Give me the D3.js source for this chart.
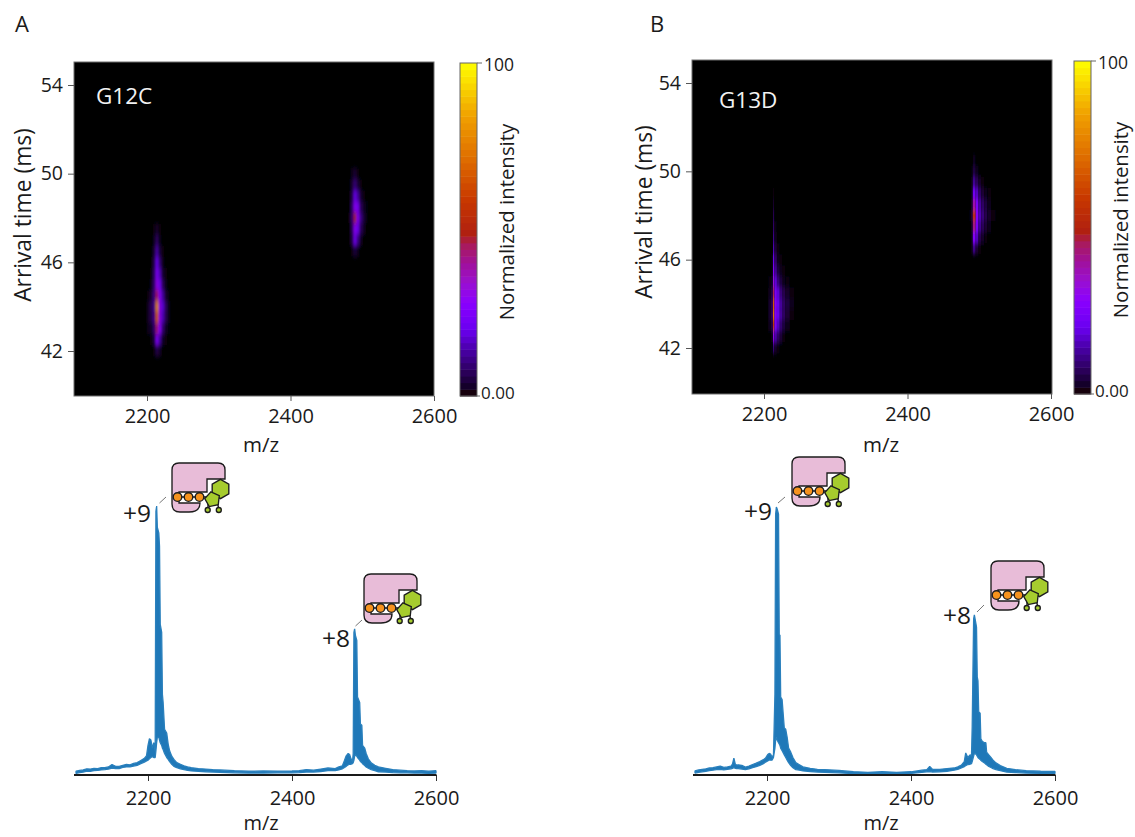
<!DOCTYPE html>
<html><head><meta charset="utf-8">
<script src="https://cdn.jsdelivr.net/npm/d3@7"></script>
<style>
html,body{margin:0;padding:0;background:#fff}
svg{display:block}
text{font-family:"Open Sans","Noto Sans",sans-serif;fill:#1a1a1a}
</style></head><body>
<svg id="c" width="1135" height="837"></svg>
<script>
// Tick labels
const mzTicks = [2200, 2400, 2600];
const timeTicks = [42, 46, 50, 54];
// Colour map (fraction of scale, colour)
const cmapStops = [0, .03, .07, .14, .2, .28, .34, .4, .45, .49, .59, .72, .84, .92, 1];
const cmapColors = ["#000000","#14002a","#2a0058","#4a00a8","#6a00f0","#8a00ff","#9a10d0","#a0109a","#a81a60","#b02010","#c83800","#e07000","#f0a000","#f8d000","#ffff00"];

// Heat map A, +9 ion
const a9Edges = [2200,2204,2208,2212,2216,2220,2224,2228,2232];
const a9Times = [47.5,47,46.5,46,45.5,45,44.5,44,43.5,43,42.5,42];
const a9Cells = [
 [0,0,1,3,1,0,0,0],[0,0,2,8,2,0,0,0],[0,0,4,14,5,1,0,0],
 [0,0,6,20,10,2,0,0],[0,1,8,25,16,4,1,0],[0,2,9,30,22,8,2,0],[1,4,11,44,27,14,4,1],
 [3,7,12,78,30,18,8,2],[3,6,12,66,30,16,7,2],[2,3,9,42,28,10,3,1],[0,1,5,26,14,3,1,0],[0,0,1,6,3,0,0,0]];
// Heat map A, +8 ion
const a8Edges = [2480,2484,2488,2492,2496,2500,2504,2508,2512];
const a8Times = [50,49.5,49,48.5,48,47.5,47,46.5];
const a8Cells = [
 [0,2,4,1,0,0,0,0],[0,4,10,5,1,0,0,0],[0,6,20,14,4,1,0,0],[0,9,28,24,8,3,1,0],
 [1,10,46,27,12,5,1,0],[0,8,28,22,8,3,0,0],[0,6,22,12,3,0,0,0],[0,1,5,2,0,0,0,0]];
// Heat map B, +9 ion
const b9Edges = [2206,2210,2212.5,2214.5,2218,2222,2226,2230,2236,2242];
const b9Times = [49,48.5,48,47.5,47,46.5,46,45.5,45,44.5,44,43.5,43,42.5,42];
const b9Cells = [
 [0,0,1,0,0,0,0,0,0],[0,0,3,0,0,0,0,0,0],[0,0,6,0,0,0,0,0,0],[0,0,8,1,0,0,0,0,0],
 [0,0,11,2,0,0,0,0,0],[0,0,15,4,1,0,0,0,0],[0,1,20,8,2,1,0,0,0],[0,1,26,12,5,2,1,0,0],
 [1,3,32,18,10,5,2,1,0],[2,6,46,24,18,10,6,3,1],[3,8,66,27,20,13,8,5,2],[3,8,72,26,20,13,8,4,1],
 [2,6,56,24,16,9,5,2,0],[0,2,30,14,8,4,1,0,0],[0,1,10,3,1,0,0,0,0]];
// Heat map B, +8 ion
const b8Edges = [2486,2488.8,2491,2495,2499,2503,2507,2511,2517,2523];
const b8Times = [50.5,50,49.5,49,48.5,48,47.5,47,46.5];
const b8Cells = [
 [0,0,2,0,0,0,0,0,0],[0,1,5,2,0,0,0,0,0],[0,2,12,7,3,1,0,0,0],[0,3,22,16,8,4,2,1,0],
 [0,4,38,24,13,8,5,2,0],[1,6,54,26,15,10,6,3,1],[0,4,42,24,12,7,4,2,0],[0,3,26,16,6,3,1,0,0],[0,2,11,4,1,0,0,0,0]];

// Spectrum A: m/z, upper and lower edge of the trace (%)
const mzA = [2100,2105,2110,2115,2120,2125,2130,2135,2140,2145,
 2150,2155,2160,2165,2170,2175,2180,2185,2190,2195,
 2198,2200,2202,2204,2206,2208,2210,2211,2212,2213,
 2215,2216,2217,2219,2220,2221,2223,2226,2228,2230,
 2233,2236,2240,2245,2250,2255,2260,2270,2280,2290,
 2300,2320,2340,2360,2380,2400,2410,2420,2430,2440,
 2450,2460,2465,2470,2473,2475,2478,2480,2482,2484,
 2485,2486,2487,2488,2490,2491,2494,2495,2497,2498,
 2501,2503,2506,2510,2515,2520,2530,2540,2550,2560,
 2570,2580,2590,2600];
const hiA = [1.4,1.7,1.9,2.3,2.2,2.5,2.4,2.7,2.7,3.0,
 3.9,3.2,3.2,3.6,3.9,3.8,4.3,4.6,5.4,6.2,
 7.2,11,13.5,13,10,12,9,98,100,92,
 90,85,56,53,30,27,17,15.6,11.5,9,
 7,5.8,4.6,4,3.4,3.0,2.7,2.4,2.2,2.0,
 1.9,1.6,1.4,1.5,1.4,1.5,1.6,2.0,1.8,2.2,
 2.6,2.4,3.0,3.4,5.5,7,8,7.6,6,5,
 8,53,54.3,52,50,29,27,19,18.5,11,
 10,8,6,4.5,3.6,3.0,2.5,2.0,1.8,1.6,
 1.5,1.6,1.4,1.6];
const loA = [.6,.9,1.1,1.4,1.4,1.6,1.7,1.9,2,2.2,
 2.6,2.4,2.4,2.8,3,3,3.3,3.6,4.2,4.8,
 5.2,5.5,6,6.5,6.8,6.5,6.5,9,12,14,
 14,13,12,11,10,9.5,8,6.5,5.8,5,
 4,3.2,2.7,2.3,2,1.7,1.5,1.4,1.2,1.1,
 1,.8,.7,.7,.8,.8,.9,1.1,1.1,1.3,
 1.6,1.6,1.9,2.3,2.8,3.2,3.8,4,4,4.2,
 4.6,5.5,7,7.5,7,6.5,5.5,5,4.6,4.2,
 3.5,3,2.5,2,1.6,1.2,1.1,.9,.8,.8,
 .7,.7,.6,.7];

// Spectrum B
const mzB = [2100,2105,2110,2115,2120,2125,2130,2135,2140,2145,
 2150,2152,2154,2156,2158,2160,2165,2170,2175,2180,
 2185,2190,2195,2198,2201,2203,2205,2207,2209,2211,
 2212,2213,2214,2216,2217,2218,2219,2221,2224,2226,
 2228,2230,2233,2236,2240,2245,2250,2260,2270,2280,
 2300,2320,2340,2360,2380,2400,2415,2422,2426,2430,
 2440,2450,2460,2465,2470,2474,2476,2479,2482,2484,
 2485,2487,2488,2489,2491,2492,2493,2494,2496,2497,
 2499,2502,2504,2505,2508,2511,2514,2518,2524,2533,
 2545,2560,2580,2600];
const hiB = [1.5,1.9,2.1,2.3,2.6,2.7,3,3.3,2.8,3,
 3.3,4,6.3,4,3.7,3.8,3.6,2.9,3.3,3.9,
 4.4,5,5.7,6.3,7.6,8,7.8,6.6,7.5,30,
 97,99.6,99,97,52,52,29,28,17.5,17,
 14,10,8.5,6.5,4.6,3.8,3,2.5,2.1,2,
 1.7,1.2,1.0,1.2,1.0,1.2,1.8,2,3.2,2.1,
 2.1,2.4,2.6,3,3.7,5,8.2,6.5,7.5,7,
 18,58,59.5,58,55,36.5,35,23.5,23,13.5,
 12.5,12,12,8.5,7.5,6.5,5.5,4.5,3.5,2.5,
 2,1.6,1.4,1.3];
const loB = [.7,1,1.2,1.4,1.6,1.8,2,2.1,1.9,2.1,
 2.3,2.5,2.7,2.5,2.4,2.4,2.2,2,2.3,2.7,
 3.1,3.6,4.2,4.8,5.2,5.6,5.5,5.5,6.5,10,
 13,14,13,12,11.5,11,10,9,7.5,6.5,
 5.5,4.6,3.5,2.7,2,1.8,1.5,1.3,1.1,1,
 .8,.5,.5,.6,.5,.6,1,1.2,1.3,1.1,
 1.2,1.4,1.8,2.1,2.6,3.1,3.5,3.9,4,4.2,
 5,7,8,8,7.5,7,6.5,6.2,5.8,5.5,
 5,4.5,4,3.8,3.2,2.8,2.4,2,1.6,1.1,
 .9,.7,.6,.6];

const svg = d3.select("#c");
const defs = svg.append("defs");
const tickGrey = "#555";
const color = d3.scaleLinear().domain(cmapStops.map(d => d * 100)).range(cmapColors).clamp(true);
const xTickSize = 20, yTickSize = 19.5;

function label(x, y, s, size, opt = {}) {
  const t = svg.append("text").attr("x", x).attr("y", y).attr("font-size", size).text(s)
    .attr("text-anchor", opt.anchor || "middle");
  if (opt.rot) t.attr("transform", `rotate(-90 ${x} ${y})`);
  if (opt.fill) t.style("fill", opt.fill);
  return t;
}

function heatPanel(p) {
  const x = d3.scaleLinear().domain([2200, 2600]).range([p.x2200, p.x2600]);
  const y = d3.scaleLinear().domain([42, 54]).range([p.y42, p.y54]);
  const L = p.left, R = p.right, T = p.top, B = p.bottom;
  svg.append("rect").attr("x", L).attr("y", T).attr("width", R - L).attr("height", B - T)
    .attr("fill", "#000").attr("stroke", "#6e6e6e").attr("stroke-width", 1);
  defs.append("filter").attr("id", p.id).attr("x", "-50%").attr("y", "-50%").attr("width", "200%").attr("height", "200%")
    .append("feGaussianBlur").attr("stdDeviation", p.blur);
  p.blobs.forEach(b => {
    const g = svg.append("g").attr("filter", `url(#${p.id})`);
    const halfRow = (b.times[0] - b.times[1]) / 2;
    b.times.forEach((t, r) => {
      b.cells[r].forEach((v, c) => {
        g.append("rect")
          .attr("x", x(b.edges[c])).attr("width", x(b.edges[c + 1]) - x(b.edges[c]))
          .attr("y", y(t + halfRow)).attr("height", y(t - halfRow) - y(t + halfRow))
          .attr("fill", color(v));
      });
    });
  });
  const ax = svg.append("g").attr("transform", `translate(0,${B})`)
    .call(d3.axisBottom(x).tickValues(mzTicks).tickFormat(d3.format("d")).tickSize(5).tickSizeOuter(0).tickPadding(8));
  const ay = svg.append("g").attr("transform", `translate(${L},0)`)
    .call(d3.axisLeft(y).tickValues(timeTicks).tickSize(6).tickSizeOuter(0).tickPadding(5));
  ax.select(".domain").remove();
  ay.select(".domain").remove();
  ax.selectAll("line").attr("stroke", tickGrey);
  ay.selectAll("line").attr("stroke", tickGrey);
  ax.selectAll("text").attr("font-size", xTickSize).style("font-family", null);
  ay.selectAll("text").attr("font-size", yTickSize).style("font-family", null);
  label(p.tagX, p.tagY, p.tag, 22.5, { anchor: "start", fill: "#f2f2f2" });
  label(p.ylabX, p.ylabY, "Arrival time (ms)", 22.8, { rot: true });
  label(p.mzX, p.mzY, "m/z", 20.5);
  // colour bar
  const cy = d3.scaleLinear().domain([0, 100]).range([B, T + 1]);
  const band = d3.range(0, 100, 2);
  svg.append("g").selectAll("rect").data(band).join("rect")
    .attr("x", p.cbX).attr("width", 17)
    .attr("y", d => cy(d + 2)).attr("height", d => cy(d) - cy(d + 2) + .5)
    .attr("fill", d => d === 0 ? "#16000c" : color(d + 1));
  svg.append("rect").attr("x", p.cbX).attr("y", T + 1).attr("width", 17).attr("height", B - T - 1)
    .attr("fill", "none").attr("stroke", "#666").attr("stroke-width", 1);
  svg.append("line").attr("x1", p.cbX + 17).attr("x2", p.cbX + 22).attr("y1", T + 1).attr("y2", T + 1).attr("stroke", "#666");
  svg.append("line").attr("x1", p.cbX + 17).attr("x2", p.cbX + 20).attr("y1", B).attr("y2", B).attr("stroke", "#666");
  label(p.cbX + 24, T + 9, "100", 17.5, { anchor: "start" });
  label(p.cbX + 21, B + 3, "0.00", 17, { anchor: "start" });
  label(p.cbX + 54, p.cbLabY, "Normalized intensity", 20.4, { rot: true });
}

function icon(px, py) {
  const g = svg.append("g").attr("transform", `translate(${px},${py})`);
  const st = { s: "#1c1c1c", w: 1.35 };
  g.append("path").attr("d", "M0,7 Q0,0 7,0 L46,0 Q53,0 53,7 L53,16 L35,16 L35,29 L7,29 L7,40 L28,40 Q28,49 17,49 L8,49 Q0,49 0,41 Z")
    .attr("fill", "#e8bcd8").attr("stroke", st.s).attr("stroke-width", st.w);
  g.append("path").attr("d", "M5.5,34 L40,34 M36,47 L36,38 M47,47 L45,38")
    .attr("fill", "none").attr("stroke", st.s).attr("stroke-width", st.w);
  const poly = (cx, cy, r, n, rot) => d3.range(n).map(i => {
    const a = rot + i * 2 * Math.PI / n;
    return [cx + r * Math.cos(a), cy + r * Math.sin(a)].join(",");
  }).join(" ");
  g.append("polygon").attr("points", poly(48.5, 26, 9.6, 6, -Math.PI / 2)).attr("fill", "#a6cc2e").attr("stroke", st.s).attr("stroke-width", st.w);
  g.append("polygon").attr("points", poly(40.5, 36.5, 7.8, 5, -Math.PI / 2 - .2)).attr("fill", "#a6cc2e").attr("stroke", st.s).attr("stroke-width", st.w);
  [5.5, 16.5, 27.5].forEach(cx => g.append("circle").attr("cx", cx).attr("cy", 34).attr("r", 4.3)
    .attr("fill", "#f7931e").attr("stroke", st.s).attr("stroke-width", st.w));
  [35.7, 46.8].forEach(cx => g.append("circle").attr("cx", cx).attr("cy", 47).attr("r", 2.5)
    .attr("fill", "#a6cc2e").attr("stroke", st.s).attr("stroke-width", st.w));
}

function specPanel(p) {
  const x = d3.scaleLinear().domain([2200, 2600]).range([p.x2200, p.x2600]);
  const y = d3.scaleLinear().domain([0, 100]).range([p.axisY, p.axisY - 269]);
  const rows = p.mz.map((m, i) => ({ m, hi: p.hi[i], lo: p.lo[i] }));
  svg.append("path").datum(rows)
    .attr("d", d3.area().x(d => x(d.m)).y0(d => y(d.lo)).y1(d => y(d.hi)))
    .attr("fill", "#1f78b8").attr("stroke", "#2a80bd").attr("stroke-width", 1.3).attr("stroke-linejoin", "bevel");
  const ax = svg.append("g").attr("transform", `translate(0,${p.axisY})`)
    .call(d3.axisBottom(x).tickValues(mzTicks).tickFormat(d3.format("d")).tickSize(6).tickSizeOuter(0).tickPadding(10));
  ax.select(".domain").remove();
  ax.selectAll("line").attr("stroke", "#333");
  ax.selectAll("text").attr("font-size", xTickSize).style("font-family", null);
  svg.append("line").attr("x1", p.x2200 - 74).attr("x2", p.x2600 + .5).attr("y1", p.axisY).attr("y2", p.axisY)
    .attr("stroke", "#1a1a1a").attr("stroke-width", 1.8);
  label(p.mzX, p.mzY, "m/z", 20);
  p.peaks.forEach(k => {
    label(k.lx, k.ly, k.t, 24.5, { anchor: "end" });
    svg.append("line").attr("x1", k.x1).attr("y1", k.y1).attr("x2", k.x2).attr("y2", k.y2).attr("stroke", "#777").attr("stroke-width", 1);
    icon(k.ix, k.iy);
  });
}

heatPanel({ id: "blurA", left: 74, right: 434, top: 62, bottom: 396, x2200: 147, x2600: 434, y42: 351, y54: 85, blur: "1 2.6",
  tag: "G12C", tagX: 96, tagY: 104, ylabX: 31, ylabY: 215, mzX: 261, mzY: 452, cbX: 460, cbLabY: 222,
  blobs: [{ edges: a9Edges, times: a9Times, cells: a9Cells }, { edges: a8Edges, times: a8Times, cells: a8Cells }] });
heatPanel({ id: "blurB", left: 692, right: 1052, top: 60, bottom: 394, x2200: 764, x2600: 1051, y42: 348, y54: 83, blur: "0.4 2.6",
  tag: "G13D", tagX: 719, tagY: 108, ylabX: 652, ylabY: 212, mzX: 881, mzY: 452, cbX: 1074, cbLabY: 220,
  blobs: [{ edges: b9Edges, times: b9Times, cells: b9Cells }, { edges: b8Edges, times: b8Times, cells: b8Cells }] });
specPanel({ x2200: 148, x2600: 436, axisY: 775, mz: mzA, hi: hiA, lo: loA, mzX: 261, mzY: 830,
  peaks: [{ t: "+9", lx: 151, ly: 522, x1: 159.5, y1: 503, x2: 166, y2: 497, ix: 172, iy: 463 },
          { t: "+8", lx: 350, ly: 647, x1: 355.5, y1: 626, x2: 362, y2: 620, ix: 364, iy: 574 }] });
specPanel({ x2200: 767, x2600: 1055, axisY: 775, mz: mzB, hi: hiB, lo: loB, mzX: 881, mzY: 830,
  peaks: [{ t: "+9", lx: 772, ly: 520, x1: 778, y1: 503, x2: 785, y2: 497, ix: 792, iy: 457 },
          { t: "+8", lx: 971, ly: 624, x1: 977, y1: 612, x2: 984, y2: 605, ix: 991, iy: 561 }] });
label(15, 32, "A", 22, { anchor: "start" });
label(650, 32, "B", 22, { anchor: "start" });
</script>
</body></html>
